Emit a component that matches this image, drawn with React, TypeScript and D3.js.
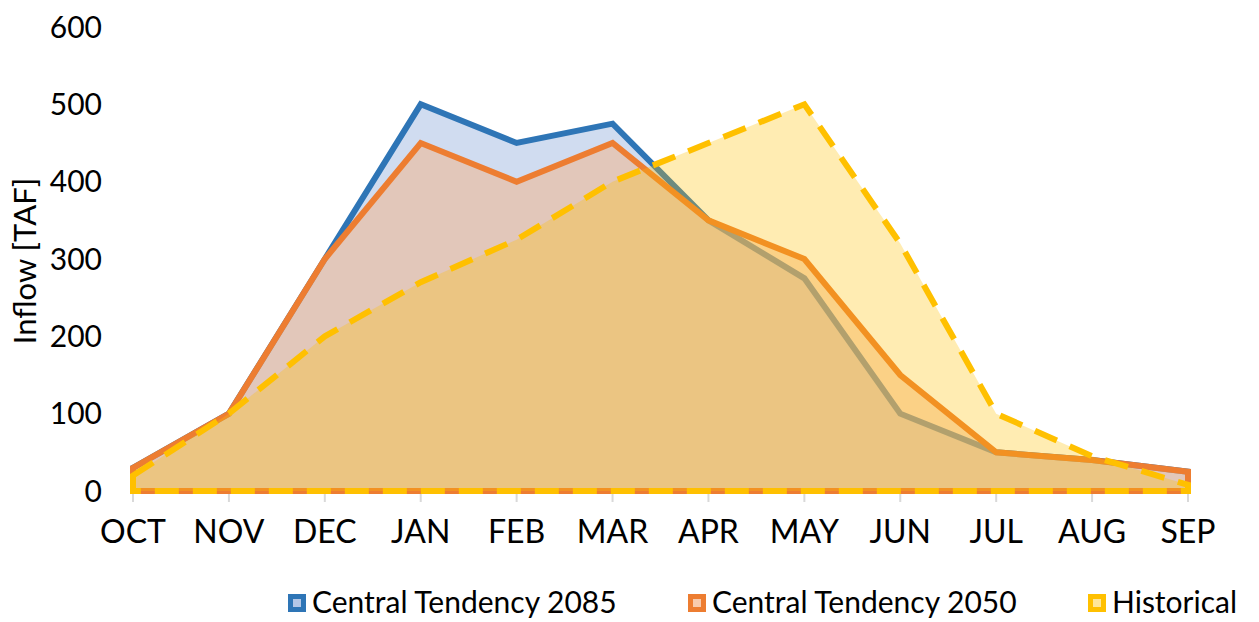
import React, { useEffect, useRef } from 'react';
import * as d3 from 'd3';

const months = ['OCT', 'NOV', 'DEC', 'JAN', 'FEB', 'MAR', 'APR', 'MAY', 'JUN', 'JUL', 'AUG', 'SEP'];
const ct2085 = [30, 100, 300, 500, 450, 475, 350, 275, 100, 50, 40, 25];
const ct2050 = [30, 100, 300, 450, 400, 450, 350, 300, 150, 50, 40, 25];
const historical = [20, 100, 200, 270, 325, 400, 450, 500, 320, 100, 45, 8];
const yTicks = [0, 100, 200, 300, 400, 500, 600];

const series = [
    { name: 'Central Tendency 2085', values: ct2085, stroke: '#2E75B6', fill: '#4472C4', fillOpacity: 0.25, dash: null, inner: '#B4C7E7' },
    { name: 'Central Tendency 2050', values: ct2050, stroke: '#ED7D31', fill: '#F4B183', fillOpacity: 0.5, dash: null, inner: '#F8CBAD' },
    { name: 'Historical', values: historical, stroke: '#FFC000', fill: '#FFC000', fillOpacity: 0.3, dash: '24,14', inner: '#FFE699' },
];

const FONT = 'Lato, "Open Sans", sans-serif';

export default function App() {
    const ref = useRef<SVGSVGElement>(null);

    useEffect(() => {
        const svg = d3.select(ref.current);
        svg.selectAll('*').remove();

        const x = d3.scalePoint<string>().domain(months).range([133, 1188]);
        const y = d3.scaleLinear().domain([0, 600]).range([491, 27]);

        // x axis line + ticks
        const g = svg.append('g');
        g.append('line')
            .attr('x1', x('OCT')!).attr('x2', x('SEP')!)
            .attr('y1', y(0)).attr('y2', y(0))
            .attr('stroke', '#D9D9D9').attr('stroke-width', 2);
        g.selectAll('.tick')
            .data(months)
            .join('line')
            .attr('x1', d => x(d)!).attr('x2', d => x(d)!)
            .attr('y1', y(0)).attr('y2', y(0) + 11)
            .attr('stroke', '#D9D9D9').attr('stroke-width', 2);

        const area = d3.area<number>()
            .x((_, i) => x(months[i])!)
            .y0(y(0))
            .y1(d => y(d));

        series.forEach(s => {
            svg.append('path')
                .datum(s.values)
                .attr('d', area)
                .attr('fill', s.fill)
                .attr('fill-opacity', s.fillOpacity)
                .attr('stroke', s.stroke)
                .attr('stroke-width', 6)
                .attr('stroke-linejoin', 'miter')
                .attr('stroke-dasharray', s.dash);
        });

        // x labels
        svg.append('g').selectAll('text')
            .data(months)
            .join('text')
            .attr('x', d => x(d)!)
            .attr('y', 543)
            .attr('text-anchor', 'middle')
            .style('font-family', FONT)
            .style('font-size', '32px')
            .style('fill', '#000')
            .text(d => d);

        // y labels
        svg.append('g').selectAll('text')
            .data(yTicks)
            .join('text')
            .attr('x', 102)
            .attr('y', d => y(d))
            .attr('dy', '0.36em')
            .attr('text-anchor', 'end')
            .style('font-family', FONT)
            .style('font-size', '30px')
            .style('fill', '#000')
            .text(d => d);

        svg.append('text')
            .attr('transform', `translate(36,261) rotate(-90)`)
            .attr('text-anchor', 'middle')
            .style('font-family', FONT)
            .style('font-size', '31px')
            .style('fill', '#000')
            .text('Inflow [TAF]');

        // legend
        const legendX = [288, 688, 1088];
        const leg = svg.append('g').selectAll('g')
            .data(series)
            .join('g')
            .attr('transform', (_, i) => `translate(${legendX[i]},594)`);
        leg.append('rect')
            .attr('x', 2.5).attr('y', 2.5)
            .attr('width', 13).attr('height', 13)
            .attr('fill', d => d.inner)
            .attr('stroke', d => d.stroke)
            .attr('stroke-width', 5);
        leg.append('text')
            .attr('x', 24)
            .attr('y', 19)
            .style('font-family', FONT)
            .style('font-size', '30px')
            .style('fill', '#000')
            .text(d => d.name);
    }, []);

    return (
        <svg ref={ref} width={1259} height={622} style={{ position: 'absolute', left: 0, top: 0 }} />
    );
}
